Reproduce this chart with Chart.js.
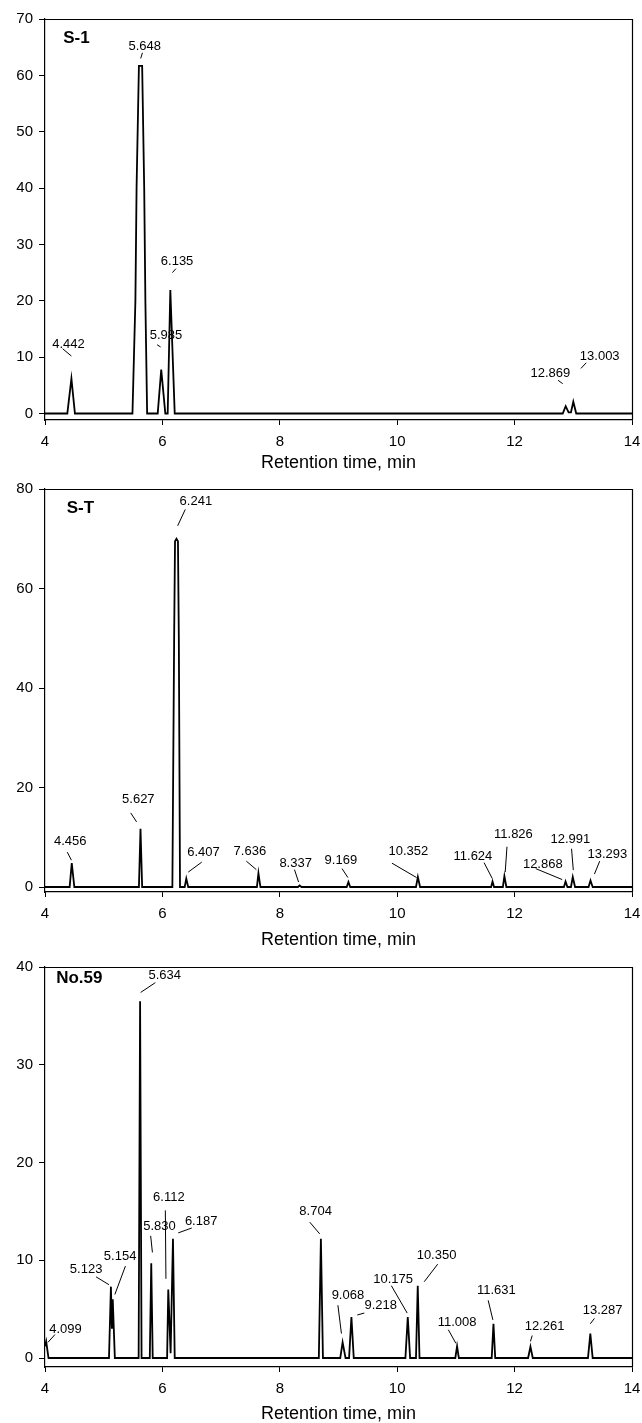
<!DOCTYPE html>
<html>
<head>
<meta charset="utf-8">
<title>Chromatograms S-1, S-T, No.59</title>
<script src="https://cdn.jsdelivr.net/npm/chart.js@4.4.0/dist/chart.umd.min.js"></script>
<style>
  html, body { margin: 0; padding: 0; background: #fff; }
  body { position: relative; width: 642px; height: 1423px; overflow: hidden; }
  canvas { position: absolute; left: 0; }
</style>
</head>
<body>
<canvas id="chartS1" width="642" height="475" style="top:0px"></canvas>
<canvas id="chartST" width="642" height="480" style="top:470px"></canvas>
<canvas id="chartNo59" width="642" height="475" style="top:948px"></canvas>
<script>
'use strict';

const FONT = '"Liberation Sans", Arial, sans-serif';
const X_TICKS = [4, 6, 8, 10, 12, 14];

// --- S-1 trace (retention time, signal) ---
const s1Time = [4.00, 4.38, 4.45, 4.51, 5.49, 5.54, 5.56, 5.60, 5.655, 5.69, 5.71, 5.74,
  5.92, 5.98, 6.05, 6.09, 6.135, 6.21, 12.82, 12.87, 12.92, 12.96, 13.00, 13.05, 14.00];
const s1Signal = [0, 0, 6.2, 0, 0, 20, 40, 61.7, 61.7, 40, 20, 0,
  0, 7.8, 0, 0, 21.9, 0, 0, 1.3, 0.2, 0.2, 2.1, 0, 0];
const s1YTicks = [0, 10, 20, 30, 40, 50, 60, 70];
const s1Peaks = ['5.648', '4.442', '5.985', '6.135', '12.869', '13.003'];

// --- S-T trace ---
const stTime = [4.00, 4.42, 4.456, 4.50, 5.60, 5.627, 5.655, 6.17, 6.20, 6.215, 6.24, 6.265, 6.28, 6.30,
  6.38, 6.407, 6.44, 7.61, 7.636, 7.67, 8.31, 8.337, 8.37, 9.14, 9.169, 9.20, 10.32, 10.352, 10.39,
  11.60, 11.624, 11.65, 11.80, 11.826, 11.86, 12.84, 12.868, 12.90, 12.96, 12.991, 13.03,
  13.26, 13.293, 13.33, 14.00];
const stSignal = [0, 0, 4.8, 0, 0, 11.7, 0, 0, 50, 69.5, 70, 69.5, 50, 0,
  0, 1.7, 0, 0, 2.8, 0, 0, 0.3, 0, 0, 1.0, 0, 0, 2.0, 0,
  0, 1.1, 0, 0, 2.2, 0, 0, 1.1, 0, 0, 2.0, 0,
  0, 1.3, 0, 0];
const stYTicks = [0, 20, 40, 60, 80];
const stPeaks = ['6.241', '4.456', '5.627', '6.407', '7.636', '8.337', '9.169', '10.352',
  '11.624', '11.826', '12.868', '12.991', '13.293'];

// --- No.59 trace ---
const n59Time = [4.00, 4.02, 4.06, 5.09, 5.123, 5.14, 5.154, 5.19, 5.595, 5.62, 5.645, 5.785, 5.81, 5.835,
  6.08, 6.10, 6.14, 6.18, 6.21, 8.665, 8.70, 8.735, 9.03, 9.07, 9.12, 9.18, 9.22, 9.26,
  10.14, 10.18, 10.22, 10.32, 10.35, 10.38, 10.99, 11.02, 11.05, 11.61, 11.64, 11.67,
  12.23, 12.27, 12.31, 13.25, 13.29, 13.33, 14.00];
const n59Signal = [1.2, 1.7, 0, 0, 7.3, 3.0, 6.0, 0, 0, 36.5, 0, 0, 9.7, 0,
  0, 7.0, 0.5, 12.2, 0, 0, 12.2, 0, 0, 1.6, 0, 0, 4.2, 0,
  0, 4.2, 0, 0, 7.4, 0, 0, 1.2, 0, 0, 3.5, 0,
  0, 1.15, 0, 0, 2.5, 0, 0];
const n59YTicks = [0, 10, 20, 30, 40];
const n59Peaks = ['5.634', '4.099', '5.123', '5.154', '5.830', '6.112', '6.187', '8.704',
  '9.068', '9.218', '10.175', '10.350', '11.008', '11.631', '12.261', '13.287'];

// label placement: [labelX, labelY, leaderX1, leaderY1, leaderX2, leaderY2] in axis units
const s1Notes = [
  [5.70, 65.1, 5.66, 64.0, 5.63, 63.0],
  [4.40, 12.3, 4.30, 11.5, 4.45, 10.2],
  [6.06, 13.8, 5.91, 12.2, 5.97, 11.8],
  [6.25, 26.9, 6.23, 25.7, 6.17, 25.0],
  [12.61, 7.1, 12.74, 5.9, 12.82, 5.3],
  [13.45, 10.1, 13.22, 9.0, 13.13, 8.0],
];
const stNotes = [
  [6.57, 77.6, 6.39, 75.9, 6.26, 72.6],
  [4.43, 9.1, 4.38, 7.0, 4.45, 5.4],
  [5.59, 17.6, 5.46, 14.9, 5.56, 13.1],
  [6.70, 6.9, 6.67, 5.0, 6.44, 3.0],
  [7.49, 7.2, 7.43, 5.2, 7.60, 3.5],
  [8.27, 4.7, 8.25, 3.5, 8.32, 1.0],
  [9.04, 5.3, 9.06, 3.7, 9.16, 1.9],
  [10.19, 7.1, 9.91, 4.8, 10.33, 1.9],
  [11.29, 6.2, 11.48, 4.9, 11.62, 1.7],
  [11.98, 10.5, 11.87, 8.1, 11.84, 3.0],
  [12.48, 4.6, 12.36, 3.7, 12.81, 1.5],
  [12.95, 9.6, 12.97, 7.7, 13.00, 3.4],
  [13.58, 6.5, 13.45, 5.2, 13.36, 2.6],
];
const n59Notes = [
  [6.04, 39.1, 5.88, 38.4, 5.63, 37.4],
  [4.35, 2.9, 4.17, 2.4, 4.05, 1.6],
  [4.70, 9.1, 4.87, 8.3, 5.09, 7.5],
  [5.28, 10.4, 5.37, 9.4, 5.19, 6.5],
  [5.95, 13.5, 5.80, 12.5, 5.83, 10.8],
  [6.11, 16.4, 6.05, 15.1, 6.06, 8.1],
  [6.66, 14.0, 6.50, 13.3, 6.27, 12.8],
  [8.61, 15.0, 8.51, 13.9, 8.68, 12.7],
  [9.16, 6.4, 8.99, 5.4, 9.05, 2.5],
  [9.72, 5.4, 9.44, 4.6, 9.32, 4.4],
  [9.93, 8.0, 9.90, 7.4, 10.17, 4.6],
  [10.67, 10.5, 10.69, 9.6, 10.46, 7.8],
  [11.02, 3.6, 10.87, 2.9, 11.00, 1.5],
  [11.69, 6.9, 11.55, 5.9, 11.63, 3.9],
  [12.51, 3.2, 12.30, 2.3, 12.27, 1.7],
  [13.50, 4.9, 13.36, 4.05, 13.29, 3.5],
];

// frame (top/right), peak labels with leader lines, panel name
const peakNotes = {
  id: 'peakNotes',
  afterDatasetsDraw(chart, args, opts) {
    const { ctx, chartArea: a, scales: { x, y } } = chart;
    ctx.save();
    ctx.strokeStyle = '#000';
    ctx.lineWidth = 1.2;
    ctx.beginPath();
    ctx.moveTo(a.left, Math.round(a.top) + 0.5);
    ctx.lineTo(Math.round(a.right) + 0.5, Math.round(a.top) + 0.5);
    ctx.lineTo(Math.round(a.right) + 0.5, a.bottom);
    ctx.stroke();

    ctx.lineWidth = 1;
    ctx.fillStyle = '#000';
    ctx.font = '13px ' + FONT;
    ctx.textAlign = 'center';
    ctx.textBaseline = 'middle';
    opts.notes.forEach((n, i) => {
      ctx.fillText(opts.peaks[i], x.getPixelForValue(n[0]), y.getPixelForValue(n[1]));
      ctx.beginPath();
      ctx.moveTo(x.getPixelForValue(n[2]), y.getPixelForValue(n[3]));
      ctx.lineTo(x.getPixelForValue(n[4]), y.getPixelForValue(n[5]));
      ctx.stroke();
    });

    ctx.font = 'bold 17px ' + FONT;
    ctx.textAlign = 'left';
    ctx.fillText(opts.name, x.getPixelForValue(opts.nameAt[0]), y.getPixelForValue(opts.nameAt[1]));
    ctx.restore();
  },
};

function buildChart(id, p) {
  const el = document.getElementById(id);
  if (!el) return;
  new Chart(el.getContext('2d'), {
    type: 'line',
    data: {
      datasets: [{
        data: p.time.map((t, i) => ({ x: t, y: p.signal[i] })),
        borderColor: '#000',
        borderWidth: 1.8,
        pointRadius: 0,
        tension: 0,
        fill: false,
      }],
    },
    options: {
      responsive: false,
      animation: false,
      layout: { padding: { left: 0, right: 10, top: 19, bottom: p.padBottom } },
      plugins: {
        legend: { display: false },
        tooltip: { enabled: false },
        peakNotes: { notes: p.notes, peaks: p.peaks, name: p.name, nameAt: p.nameAt },
      },
      scales: {
        x: {
          type: 'linear', min: 4, max: 14,
          afterBuildTicks: s => { s.ticks = X_TICKS.map(v => ({ value: v })); },
          afterFit: s => { s.height = p.xAxisH; s.paddingLeft = 0; s.paddingRight = 0; },
          grid: { drawOnChartArea: false, drawTicks: true, tickLength: 5, color: '#000' },
          border: { display: true, color: '#000', width: 1.2 },
          ticks: { color: '#000', padding: 8, autoSkip: false, maxRotation: 0, font: { family: FONT, size: 15 } },
          title: {
            display: true, text: 'Retention time, min', color: '#000', padding: 0,
            font: { family: FONT, size: 18, lineHeight: 1 },
          },
        },
        y: {
          type: 'linear', min: p.yMin, max: p.yMax,
          afterBuildTicks: s => { s.ticks = p.yTicks.map(v => ({ value: v })); },
          afterFit: s => { s.width = 45; s.paddingTop = 0; s.paddingBottom = 0; },
          grid: { drawOnChartArea: false, drawTicks: true, tickLength: 6, color: '#000' },
          border: { display: true, color: '#000', width: 1.2 },
          ticks: { color: '#000', padding: 6, autoSkip: false, font: { family: FONT, size: 15 } },
        },
      },
    },
    plugins: [peakNotes],
  });
}

buildChart('chartS1', {
  time: s1Time, signal: s1Signal, yTicks: s1YTicks, yMin: -1.15, yMax: 70,
  peaks: s1Peaks, notes: s1Notes, name: 'S-1', nameAt: [4.31, 66.6],
  xAxisH: 52, padBottom: 3,
});
buildChart('chartST', {
  time: stTime, signal: stSignal, yTicks: stYTicks, yMin: -1.0, yMax: 80,
  peaks: stPeaks, notes: stNotes, name: 'S-T', nameAt: [4.37, 76.1],
  xAxisH: 57, padBottom: 1,
});
buildChart('chartNo59', {
  time: n59Time, signal: n59Signal, yTicks: n59YTicks, yMin: -0.92, yMax: 40,
  peaks: n59Peaks, notes: n59Notes, name: 'No.59', nameAt: [4.19, 38.8],
  xAxisH: 56, padBottom: 0,
});
</script>
</body>
</html>
